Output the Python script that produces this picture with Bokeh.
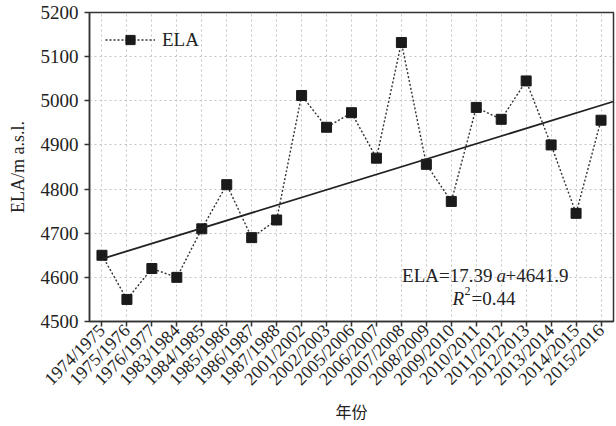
import math
from bokeh.plotting import figure
from bokeh.models import (FactorRange, Range1d, SingleIntervalTicker, Label,
                          Legend, LegendItem, ColumnDataSource)
from bokeh.embed import file_html
from bokeh.resources import INLINE

# ---- data ----
years = ["1974/1975", "1975/1976", "1976/1977", "1983/1984", "1984/1985",
         "1985/1986", "1986/1987", "1987/1988", "2001/2002", "2002/2003",
         "2005/2006", "2006/2007", "2007/2008", "2008/2009", "2009/2010",
         "2010/2011", "2011/2012", "2012/2013", "2013/2014", "2014/2015",
         "2015/2016"]
ela = [4650, 4550, 4620, 4600, 4710, 4810, 4690, 4730, 5012, 4940,
       4973, 4870, 5132, 4856, 4772, 4985, 4958, 5045, 4900, 4745, 4956]
trend_slope = 17.39
trend_intercept = 4641.9

SERIF = "Liberation Serif"
TXT = "#222222"

p = figure(width=616, height=426, output_backend="svg", toolbar_location=None,
           x_range=FactorRange(factors=years), y_range=Range1d(4500, 5200),
           min_border_left=89, min_border_right=3, min_border_top=12,
           min_border_bottom=104)
p.background_fill_color = "white"
p.border_fill_color = "white"
p.outline_line_color = "#333333"
p.outline_line_width = 1.5

# grid
p.xgrid.grid_line_color = "#c4c4c4"
p.xgrid.grid_line_dash = "2 3"
p.ygrid.grid_line_color = "#c4c4c4"
p.ygrid.grid_line_dash = "2 3"

# axes
p.yaxis.ticker = SingleIntervalTicker(interval=100)
for ax in (p.xaxis[0], p.yaxis[0]):
    ax.axis_line_color = "#333333"
    ax.axis_line_width = 1.5
    ax.major_tick_line_color = "#333333"
    ax.major_tick_line_width = 1.5
    ax.major_tick_in = 0
    ax.major_tick_out = 5
    ax.minor_tick_line_color = None
    ax.major_label_text_font = SERIF
    ax.major_label_text_color = TXT
p.yaxis.major_label_text_font_size = "19px"
p.xaxis.major_label_text_font_size = "18px"
p.yaxis.major_label_standoff = 6
p.yaxis.axis_label = "ELA/m a.s.l."
p.yaxis.axis_label_text_font = SERIF
p.yaxis.axis_label_text_font_size = "18px"
p.yaxis.axis_label_text_font_style = "normal"
p.yaxis.axis_label_text_color = TXT
p.yaxis.axis_label_standoff = 10
p.xaxis.major_label_orientation = math.pi / 4
p.xaxis.major_label_standoff = 1
p.xaxis.axis_label = "年份"
p.xaxis.axis_label_text_font = "Noto Sans CJK SC"
p.xaxis.axis_label_text_font_size = "16px"
p.xaxis.axis_label_text_font_style = "normal"
p.xaxis.axis_label_text_color = TXT
p.xaxis.axis_label_standoff = 0

# data series
src = ColumnDataSource(dict(x=years, y=ela))
ln = p.line("x", "y", source=src, line_color="#333333", line_width=1.4,
            line_dash="2 2")
sc = p.scatter("x", "y", source=src, marker="square", size=10,
               fill_color="#1a1a1a", line_color="#1a1a1a")

# trend line from printed regression (a = index from first season)
n = len(years)
tx = [0.5, n]
ty = [trend_intercept + trend_slope * (v - 0.5) for v in tx]
p.line(tx, ty, line_color="#222222", line_width=1.8)

# legend
legend = Legend(items=[LegendItem(label="ELA", renderers=[ln, sc])],
                location="top_left", margin=16, padding=0,
                glyph_width=50, glyph_height=23, label_standoff=7,
                label_text_font=SERIF, label_text_font_size="19px",
                label_text_color=TXT, border_line_color=None,
                background_fill_alpha=0)
p.add_layout(legend, "center")

# regression annotation
common = dict(x_units="screen", y_units="screen", text_font=SERIF,
              text_font_size="19px", text_color=TXT,
              text_baseline="alphabetic")
p.add_layout(Label(x=403, y=46, text="ELA=17.39", text_align="right", **common))
p.add_layout(Label(x=407, y=46, text="a", text_align="left",
                   text_font_style="italic", **common))
p.add_layout(Label(x=416, y=46, text="+4641.9", text_align="left", **common))
p.add_layout(Label(x=363, y=23, text="R", text_align="left",
                   text_font_style="italic", **common))
p.add_layout(Label(x=375, y=31, text="2", text_align="left",
                   x_units="screen", y_units="screen", text_font=SERIF,
                   text_font_size="12px", text_color=TXT,
                   text_baseline="alphabetic"))
p.add_layout(Label(x=382, y=23, text="=0.44", text_align="left", **common))

open("out.html", "w").write(file_html(p, INLINE))
